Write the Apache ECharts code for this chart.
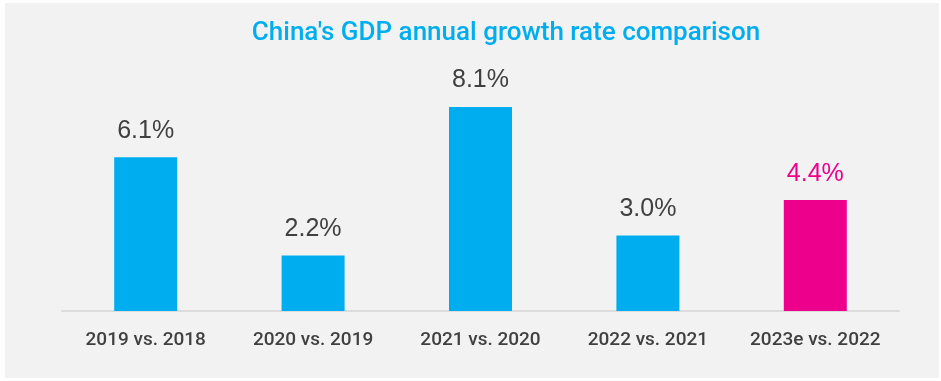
<!DOCTYPE html>
<html><head><meta charset="utf-8">
<script src="https://cdn.jsdelivr.net/npm/echarts@6/dist/echarts.min.js"></script>
<style>html,body{margin:0;padding:0;background:#fff}#c{width:941px;height:381px}</style>
</head><body><div id="c"></div>
<script>
const titleText = "China's GDP annual growth rate comparison";
const categories = ["2019 vs. 2018", "2020 vs. 2019", "2021 vs. 2020", "2022 vs. 2021", "2023e vs. 2022"];
const growth = [6.1, 2.2, 8.1, 3.0, 4.4];
const estimateIndex = 4;

const blue = '#00aeef', pink = '#ec008c';
const chart = echarts.init(document.getElementById('c'));
chart.setOption({
  backgroundColor: '#fff',
  animation: false,
  graphic: [{type: 'rect', shape: {x: 5, y: 3, width: 934, height: 375}, style: {fill: '#f2f2f2'}, z: -10}],
  title: {text: titleText, left: 501, textAlign: 'center', top: 15,
    textStyle: {color: blue, fontFamily: 'Roboto', fontWeight: 500, fontSize: 26}},
  grid: {left: 62, right: 42, top: 59, bottom: 70},
  xAxis: {type: 'category', data: categories,
    axisLine: {lineStyle: {color: '#dcdcdc', width: 2}}, axisTick: {show: false},
    axisLabel: {interval: 0, color: '#404040', fontFamily: 'Roboto', fontWeight: 500, fontSize: 19, margin: 20}},
  yAxis: {type: 'value', min: 0, max: 10, show: false, splitLine: {show: false}},
  series: [{type: 'bar', barWidth: 63,
    data: growth.map((v, i) => ({value: v, itemStyle: {color: i === estimateIndex ? pink : blue},
      label: {color: i === estimateIndex ? pink : '#404040'}})),
    label: {show: true, position: 'top', distance: 14, fontSize: 25, fontFamily: 'Liberation Sans', formatter: p => p.value.toFixed(1) + '%'}}]
});
</script></body></html>
